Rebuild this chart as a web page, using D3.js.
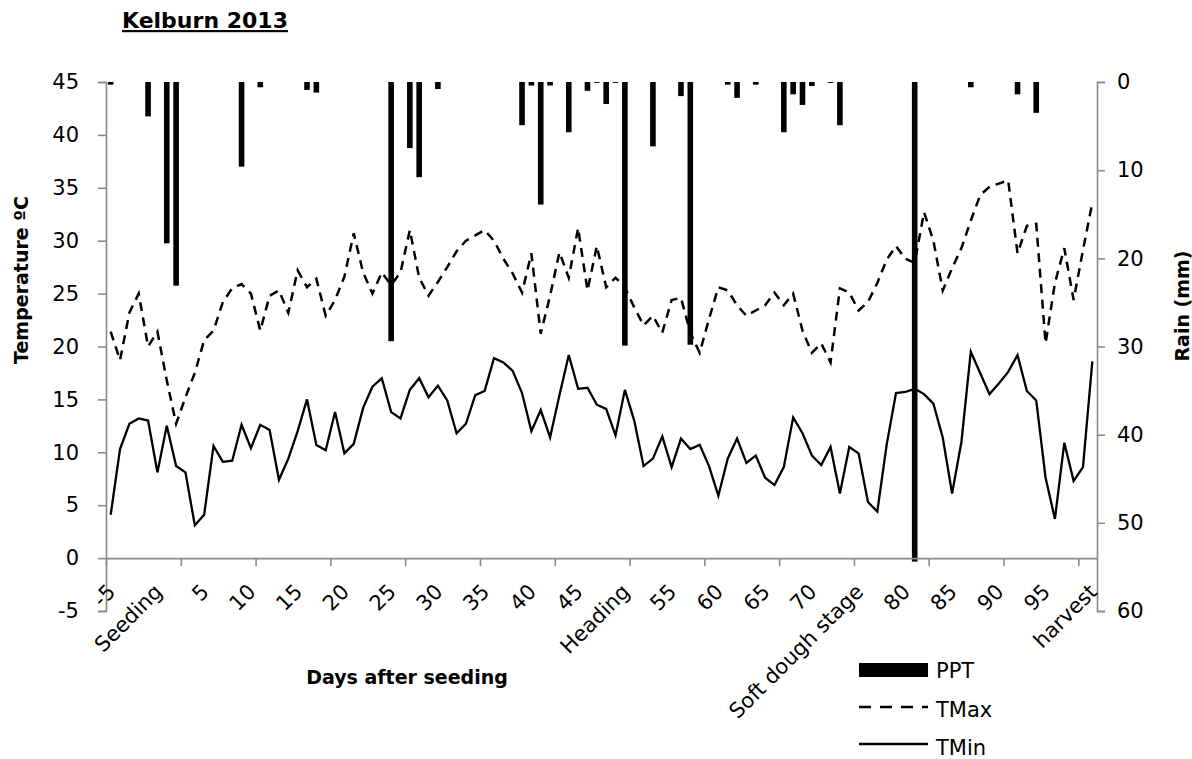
<!DOCTYPE html>
<html>
<head>
<meta charset="utf-8">
<script src="https://cdn.jsdelivr.net/npm/d3@7"></script>
<style>
body { margin: 0; background: #fff; }
text { font-family: "DejaVu Sans", sans-serif; fill: #000; }
</style>
</head>
<body>
<div id="chart"></div>
<script>

// days after seeding, one category per day
var days = d3.range(-5, 101);

// daily maximum temperature (C)
var tmax = [21.4, 18.7, 23.2, 25.0, 20.0, 21.4, 16.8, 12.7, 15.2, 17.5,
            20.6, 21.5, 24.2, 25.5, 25.9, 25.0, 21.5, 24.8, 25.3, 23.2,
            27.2, 25.6, 26.4, 22.9, 24.4, 26.6, 30.7, 27.0, 25.0, 27.0,
            25.8, 27.0, 31.0, 26.5, 24.8, 26.1, 27.5, 29.0, 30.0, 30.5,
            31.0, 30.0, 28.3, 26.9, 25.1, 28.8, 21.2, 24.8, 28.9, 26.5,
            31.2, 25.3, 29.5, 25.6, 26.5, 25.6, 23.7, 22.0, 22.9, 21.3,
            24.4, 24.6, 21.3, 19.4, 22.6, 25.6, 25.3, 23.9, 22.9, 23.4,
            23.9, 25.1, 23.9, 25.0, 21.5, 19.4, 20.3, 18.5, 25.5, 25.1,
            23.4, 24.2, 26.0, 28.2, 29.5, 28.3, 27.9, 32.7, 30.0, 25.3,
            27.4, 29.3, 31.9, 34.3, 35.1, 35.4, 35.7, 28.8, 31.4, 31.6,
            20.3, 26.0, 29.3, 24.4, 29.1, 33.6];

// daily minimum temperature (C)
var tmin = [4.1, 10.3, 12.7, 13.2, 13.0, 8.1, 12.5, 8.7, 8.1, 3.1,
            4.1, 10.6, 9.1, 9.2, 12.6, 10.4, 12.6, 12.1, 7.4, 9.4,
            12.0, 15.0, 10.7, 10.2, 13.8, 9.9, 10.8, 14.2, 16.2, 17.0,
            13.8, 13.2, 15.9, 17.0, 15.2, 16.3, 14.9, 11.8, 12.7, 15.4,
            15.8, 18.9, 18.5, 17.7, 15.6, 12.0, 14.0, 11.4, 15.4, 19.2,
            16.0, 16.1, 14.5, 14.1, 11.6, 15.9, 13.0, 8.7, 9.4, 11.5,
            8.6, 11.3, 10.3, 10.7, 8.7, 5.9, 9.4, 11.3, 9.0, 9.7,
            7.6, 6.9, 8.6, 13.3, 11.8, 9.7, 8.8, 10.5, 6.1, 10.5,
            9.9, 5.3, 4.4, 10.7, 15.6, 15.7, 16.0, 15.5, 14.6, 11.4,
            6.1, 11.0, 19.5, 17.5, 15.5, 16.5, 17.6, 19.2, 15.8, 14.9,
            7.6, 3.7, 10.9, 7.3, 8.6, 18.6];

// daily rain (mm)
var ppt = [0.3, 0, 0, 0, 3.9, 0, 18.3, 23.1, 0, 0,
           0, 0, 0, 0, 9.6, 0, 0.6, 0, 0, 0,
           0, 0.9, 1.2, 0, 0, 0, 0, 0, 0, 0,
           29.4, 0, 7.5, 10.8, 0, 0.8, 0, 0, 0, 0,
           0, 0, 0, 0, 4.9, 0.4, 13.9, 0.4, 0, 5.7,
           0, 1.0, 0.1, 2.5, 0.1, 29.9, 0, 0, 7.3, 0,
           0, 1.6, 29.8, 0, 0, 0, 0.3, 1.8, 0, 0.3,
           0, 0, 5.7, 1.4, 2.6, 0.45, 0, 0.1, 4.9, 0,
           0, 0, 0, 0, 0, 0, 54.4, 0, 0, 0,
           0, 0, 0.6, 0, 0, 0, 0, 1.4, 0, 3.5,
           0, 0, 0, 0, 0, 0];

var labelDays = [-5, 0, 5, 10, 15, 20, 25, 30, 35, 40, 45, 50, 55, 60, 65, 70, 75, 80, 85, 90, 95, 100];
var labelText = ["-5", "Seeding", "5", "10", "15", "20", "25", "30", "35", "40", "45", "Heading",
                 "55", "60", "65", "70", "Soft dough stage", "80", "85", "90", "95", "harvest"];
var tempTicks = [-5, 0, 5, 10, 15, 20, 25, 30, 35, 40, 45];
var rainTicks = [0, 10, 20, 30, 40, 50, 60];
var markEvery = [0, 8, 16, 24, 32, 40, 48, 56, 64, 72, 80, 88, 96, 104];

var width = 1192, height = 759;
var plot = {left: 106, right: 1097, top: 82, bottom: 611};
var axisGrey = "#898989";

var svg = d3.select("#chart").append("svg")
    .attr("width", width)
    .attr("height", height);

var x = d3.scaleBand().domain(days).range([plot.left, plot.right]);
var xMarks = d3.scaleLinear().domain([0, days.length]).range([plot.left, plot.right]);
var y = d3.scaleLinear().domain([-5, 45]).range([plot.bottom, plot.top]);
var y2 = d3.scaleLinear().domain([0, 60]).range([plot.top, plot.bottom]);
var half = x.bandwidth() / 2;

function styleAxis(g) {
    g.selectAll("path, line").attr("stroke", axisGrey).attr("stroke-width", 1.6);
    g.selectAll("text").style("font-size", "21px").attr("fill", "#000");
}

// rain bars hang from the top (secondary axis reversed)
svg.append("g").selectAll("rect")
    .data(days.map(function(d, i) { return {day: d, v: ppt[i]}; }).filter(function(d) { return d.v > 0; }))
    .enter().append("rect")
    .attr("x", function(d) { return x(d.day) + half - 2.8; })
    .attr("width", 5.6)
    .attr("y", y2(0))
    .attr("height", function(d) { return y2(d.v) - y2(0); })
    .attr("fill", "#000");

// left axis (plain hyphen for negatives, like the original)
svg.append("g")
    .attr("transform", "translate(" + plot.left + ",0)")
    .call(d3.axisLeft(y).tickValues(tempTicks).tickSize(8).tickPadding(19)
        .tickFormat(function(d) { return String(d); }))
    .call(styleAxis);

// right axis
svg.append("g")
    .attr("transform", "translate(" + plot.right + ",0)")
    .call(d3.axisRight(y2).tickValues(rainTicks).tickSize(8).tickPadding(12))
    .call(styleAxis)
    .selectAll("text").attr("text-anchor", "start");

// x axis line + tick marks every 8 days
svg.append("g")
    .attr("transform", "translate(0," + y(0) + ")")
    .call(d3.axisBottom(xMarks).tickValues(markEvery).tickSize(8).tickSizeOuter(0).tickFormat(""))
    .call(styleAxis);

// rotated day labels
var xl = svg.append("g")
    .attr("transform", "translate(0," + y(0) + ")")
    .call(d3.axisBottom(x).tickValues(labelDays).tickSize(0)
        .tickFormat(function(d) { return labelText[labelDays.indexOf(d)]; }));
xl.select(".domain").remove();
xl.selectAll("text")
    .attr("y", 0).attr("dy", 0)
    .attr("transform", "translate(6,35) rotate(-45)")
    .style("text-anchor", "end")
    .style("font-size", "21px")
    .attr("fill", "#000");

// temperature lines
var line = function(vals) {
    return d3.line()
        .x(function(d, i) { return x(days[i]) + half; })
        .y(function(d) { return y(d); })(vals);
};

svg.append("path")
    .attr("d", line(tmax))
    .attr("fill", "none")
    .attr("stroke", "#000")
    .attr("stroke-width", 2.5)
    .attr("stroke-dasharray", "9,6.5");

svg.append("path")
    .attr("d", line(tmin))
    .attr("fill", "none")
    .attr("stroke", "#000")
    .attr("stroke-width", 2.3);

// titles
svg.append("text")
    .attr("x", 122).attr("y", 28)
    .style("font-size", "22px").style("font-weight", "bold")
    .style("text-decoration", "underline")
    .text("Kelburn 2013");

svg.append("text")
    .attr("x", 407).attr("y", 684)
    .attr("text-anchor", "middle")
    .style("font-size", "19px").style("font-weight", "bold")
    .text("Days after seeding");

svg.append("text")
    .attr("transform", "translate(28,280) rotate(-90)")
    .attr("text-anchor", "middle")
    .style("font-size", "19px").style("font-weight", "bold")
    .text("Temperature ºC");

svg.append("text")
    .attr("transform", "translate(1189,306) rotate(-90)")
    .attr("text-anchor", "middle")
    .style("font-size", "19px").style("font-weight", "bold")
    .text("Rain (mm)");

// legend
var legend = svg.append("g");
legend.append("rect")
    .attr("x", 859).attr("y", 663).attr("width", 69).attr("height", 14)
    .attr("fill", "#000");
legend.append("line")
    .attr("x1", 859).attr("x2", 928).attr("y1", 707).attr("y2", 707)
    .attr("stroke", "#000").attr("stroke-width", 2.5).attr("stroke-dasharray", "12,9");
legend.append("line")
    .attr("x1", 859).attr("x2", 928).attr("y1", 744).attr("y2", 744)
    .attr("stroke", "#000").attr("stroke-width", 2.3);
legend.selectAll(".lt")
    .data([["PPT", 678], ["TMax", 717], ["TMin", 755]])
    .enter().append("text")
    .attr("x", 936).attr("y", function(d) { return d[1]; })
    .style("font-size", "21px")
    .text(function(d) { return d[0]; });

</script>
</body>
</html>
